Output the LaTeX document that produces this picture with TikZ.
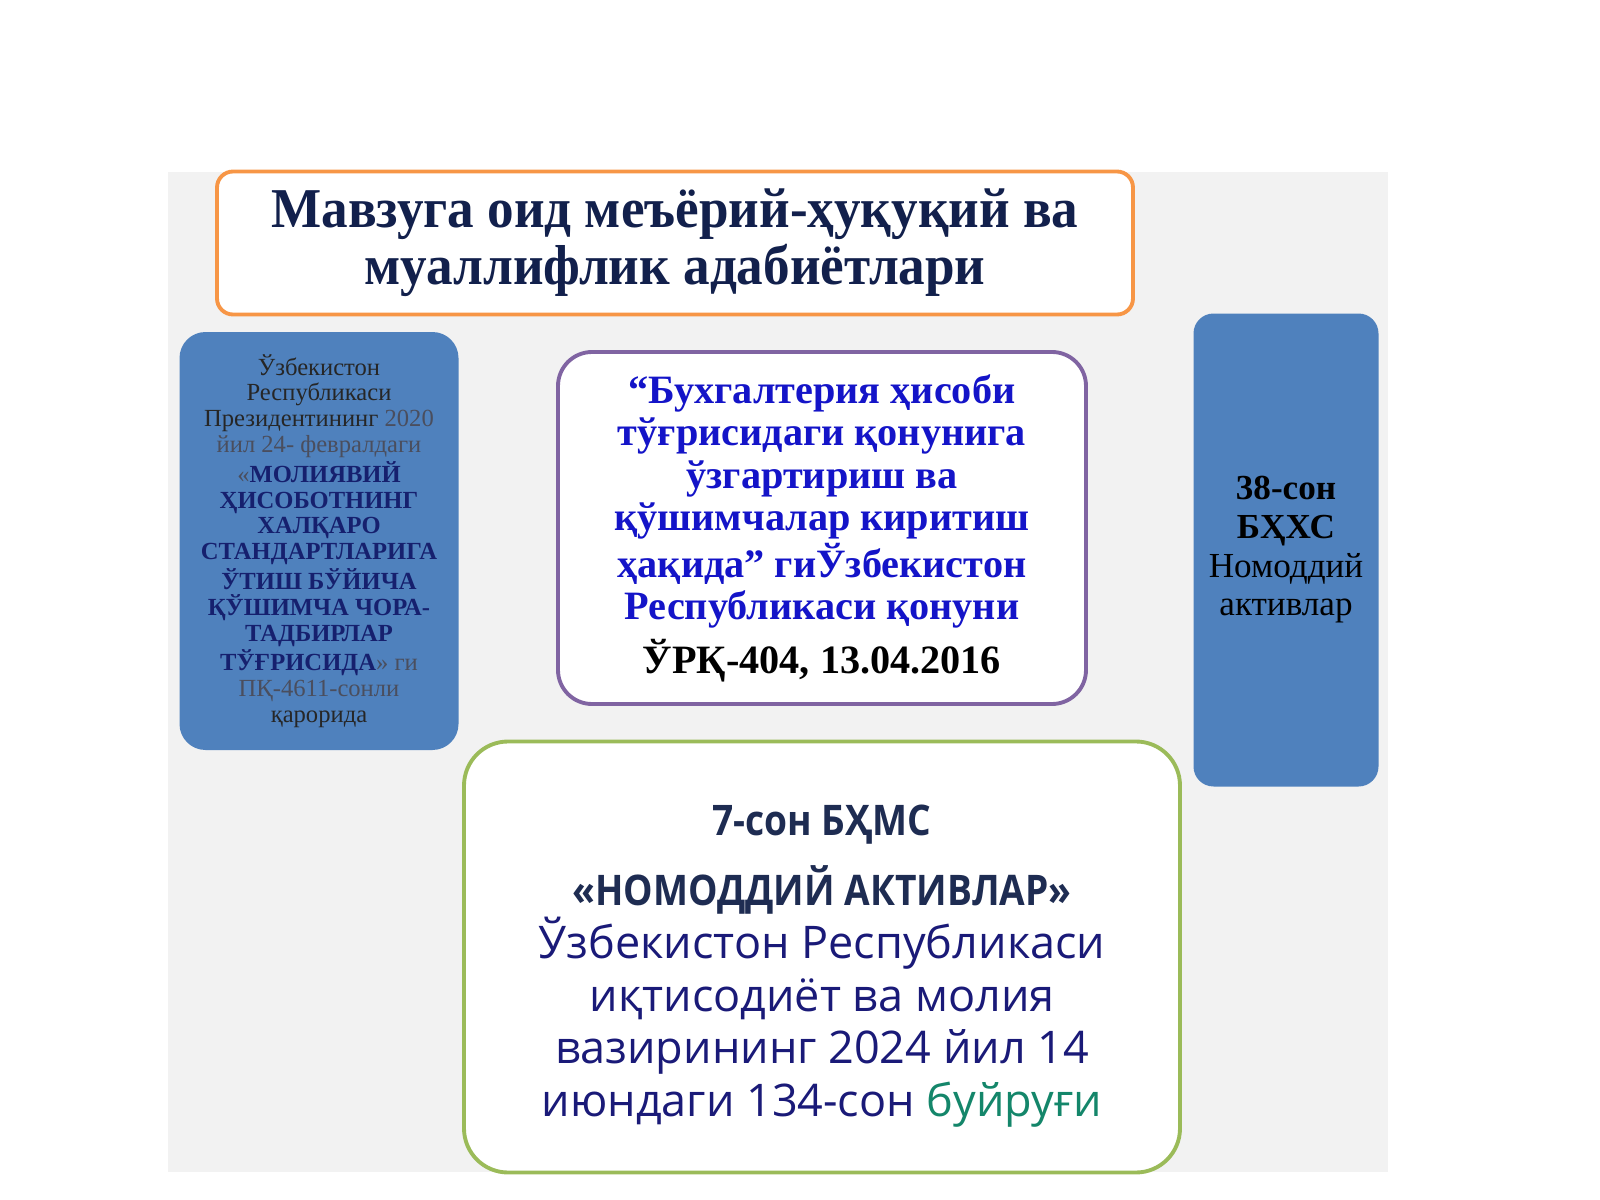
\documentclass[tikz,border=0pt]{standalone}
\usepackage{fontspec}
\setmainfont{Liberation Serif}
\newfontfamily\titlefont[FakeStretch=0.945]{Liberation Serif}
\newfontfamily\sansfont{Open Sans}
\newfontfamily\sansheadfont[FakeStretch=0.88]{Open Sans}
\definecolor{bgGray}{HTML}{F2F2F2}
\definecolor{ofOrange}{HTML}{F79646}
\definecolor{ofBlue}{HTML}{4F81BD}
\definecolor{ofPurple}{HTML}{8064A2}
\definecolor{ofGreen}{HTML}{9BBB59}
\definecolor{titleNavy}{HTML}{12204C}
\definecolor{lawBlue}{HTML}{1414C8}
\definecolor{capNavy}{HTML}{16206E}
\definecolor{dimGray}{HTML}{4A4E5E}
\definecolor{textNavy}{HTML}{1A1A78}
\definecolor{headNavy}{HTML}{1E2C52}
\definecolor{orderTeal}{HTML}{14866A}
\tikzset{
  framebox/.style={draw, fill=white, line width=1.1pt, inner sep=0pt, align=center},
  bluebox/.style={fill=ofBlue, rounded corners=2.6mm, inner sep=0pt, align=center},
}
\begin{document}
\begin{tikzpicture}[x=0.1mm,y=-0.1mm]
\useasboundingbox (0,0) rectangle (1600,1200);
\fill[bgGray] (168,172) rectangle (1388,1172);

% title
\node[framebox, draw=ofOrange, rounded corners=1.6mm, minimum width=91.6mm, minimum height=14.3mm,
  font=\titlefont\bfseries\fontsize{16}{16.2}\selectfont, text=titleNavy] (title) at (675,243)
  {Мавзуга оид меъёрий-ҳуқуқий ва\\ муаллифлик адабиётлари};

% left: president decree
\node[bluebox, minimum width=27.9mm, minimum height=41.8mm,
  font=\fontsize{7}{7.35}\selectfont, text=black!85] (decree) at (319,541)
  {Ўзбекистон\\ Республикаси\\ Президентининг {\color{dimGray}2020}\\
   {\color{dimGray}йил 24- февралдаги}\\
   {\color{dimGray}«}{\bfseries\color{capNavy}МОЛИЯВИЙ}\\
   {\bfseries\color{capNavy}ҲИСОБОТНИНГ}\\
   {\bfseries\color{capNavy}ХАЛҚАРО}\\
   {\bfseries\color{capNavy}СТАНДАРТЛАРИГА}\\
   {\bfseries\color{capNavy}ЎТИШ БЎЙИЧА}\\
   {\bfseries\color{capNavy}ҚЎШИМЧА ЧОРА-}\\
   {\bfseries\color{capNavy}ТАДБИРЛАР}\\
   {\bfseries\color{capNavy}ТЎҒРИСИДА}{\color{dimGray}» ги}\\
   {\color{dimGray}ПҚ-4611-сонли}\\
   қарорида};

% middle: law
\node[framebox, draw=ofPurple, rounded corners=3.4mm, minimum width=52.8mm, minimum height=35.2mm,
  font=\bfseries\fontsize{11.45}{12.1}\selectfont, text=lawBlue] (law) at (822,528)
  {“Бухгалтерия ҳисоби\\ тўғрисидаги қонунига\\ ўзгартириш ва\\
   қўшимчалар киритиш\\ ҳақида” гиЎзбекистон\\ Республикаси қонуни\\[2pt]
   {\color{black}ЎРҚ-404, 13.04.2016}};

% right: IFRS 38
\node[bluebox, rounded corners=2mm, minimum width=18.5mm, minimum height=47.3mm,
  font=\fontsize{10}{11}\selectfont, text=black] (ifrs) at (1286,550)
  {\textbf{38-сон}\\ \textbf{БҲХС}\\ Номоддий\\ активлар};

% bottom: standard 7
\node[framebox, draw=ofGreen, rounded corners=4.4mm, minimum width=71.6mm, minimum height=43.1mm] (nas) at (822,957) {};
\node[inner sep=0pt, align=center, font=\sansfont\fontsize{12.8}{15}\selectfont, text=textNavy] (nasText) at (822,966)
  {{\sansheadfont\bfseries\fontsize{12}{15}\selectfont\color{headNavy}7-сон БҲМС}\\[5pt]
   {\sansheadfont\bfseries\fontsize{12}{15}\selectfont\color{headNavy}«НОМОДДИЙ АКТИВЛАР»}\\
   Ўзбекистон Республикаси\\ иқтисодиёт ва молия\\ вазирининг 2024 йил 14\\
   июндаги 134-сон {\color{orderTeal}буйруғи}};
\end{tikzpicture}
\end{document}
